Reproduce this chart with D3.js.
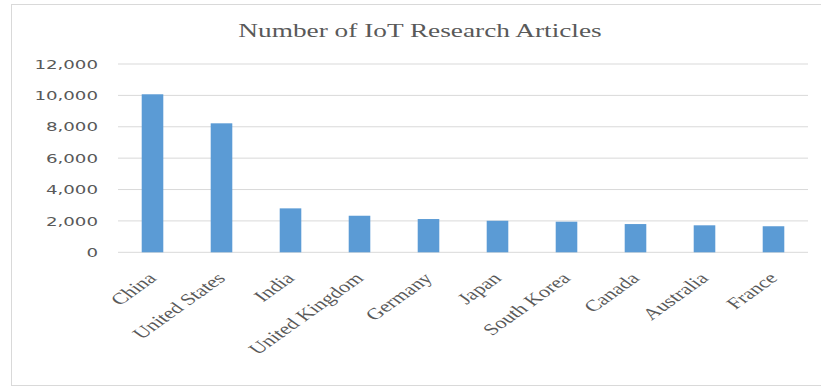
<!DOCTYPE html>
<html>
<head>
<meta charset="utf-8">
<script src="https://cdn.jsdelivr.net/npm/d3@7"></script>
<style>
  html, body { margin: 0; padding: 0; background: #fff; }
  svg { display: block; }
</style>
</head>
<body>
<svg id="chart" width="821" height="387"></svg>
<script>
const title = "Number of IoT Research Articles";
const countries = ["China", "United States", "India", "United Kingdom", "Germany", "Japan", "South Korea", "Canada", "Australia", "France"];
const articles = [10070, 8220, 2800, 2330, 2120, 2010, 1950, 1800, 1720, 1660];
const yTicks = [0, 2000, 4000, 6000, 8000, 10000, 12000];

const W = 821, H = 387;
const SX = 1.4; // horizontal stretch of the original image
const plot = { left: 118, right: 808, top: 64, bottom: 252.3 };

const svg = d3.select("#chart");

svg.append("rect")
  .attr("x", 11.5).attr("y", 4.5)
  .attr("width", 812).attr("height", 381)
  .attr("fill", "#fff").attr("stroke", "#d9d9d9").attr("stroke-width", 1);

const x = d3.scaleBand().domain(countries)
  .range([plot.left, plot.right])
  .paddingInner(0.687).paddingOuter(0.687 / 2);
const y = d3.scaleLinear().domain([0, 12000]).range([plot.bottom, plot.top]);

// gridlines
svg.append("g").selectAll("line").data(yTicks).join("line")
  .attr("x1", plot.left).attr("x2", plot.right)
  .attr("y1", d => y(d)).attr("y2", d => y(d))
  .attr("stroke", "#d9d9d9").attr("stroke-width", 1);

// y labels
const fmt = d3.format(",");
svg.append("g").selectAll("text").data(yTicks).join("text")
  .attr("transform", d => `translate(98,${y(d)}) scale(${SX},1)`)
  .attr("dy", "0.36em")
  .attr("text-anchor", "end")
  .attr("font-family", "DejaVu Sans")
  .attr("font-size", 13)
  .attr("fill", "#595959")
  .text(d => fmt(d));

// bars
svg.append("g").selectAll("rect").data(countries).join("rect")
  .attr("x", d => x(d))
  .attr("width", x.bandwidth())
  .attr("y", (d, i) => y(articles[i]))
  .attr("height", (d, i) => y(0) - y(articles[i]))
  .attr("fill", "#5b9bd5");

// x labels
svg.append("g").selectAll("text").data(countries).join("text")
  .attr("transform", d => `translate(${x(d) + x.bandwidth() / 2 + 5},${plot.bottom + 27}) scale(${SX},1) rotate(-45)`)
  .attr("text-anchor", "end")
  .attr("font-family", "Liberation Serif")
  .attr("font-size", 16)
  .attr("fill", "#595959")
  .text(d => d);

// title
svg.append("text")
  .attr("transform", `translate(420,37) scale(${SX},1)`)
  .attr("text-anchor", "middle")
  .attr("font-family", "Liberation Serif")
  .attr("font-size", 19.5)
  .attr("fill", "#595959")
  .text(title);
</script>
</body>
</html>
